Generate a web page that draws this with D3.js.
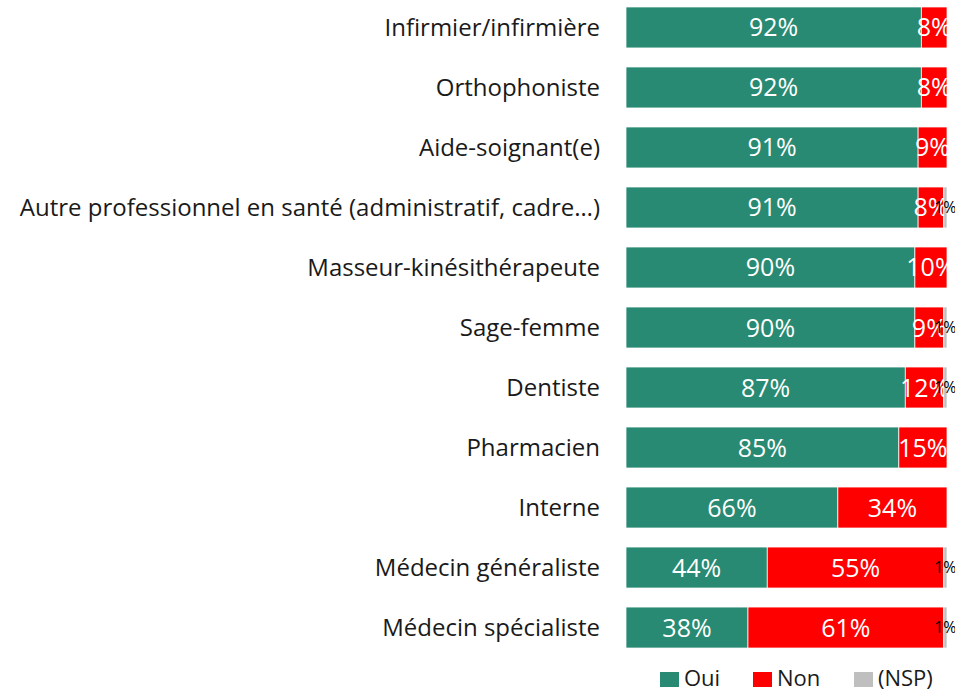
<!DOCTYPE html>
<html>
<head>
<meta charset="utf-8">
<script src="https://cdn.jsdelivr.net/npm/d3@7"></script>
<style>
  body { margin: 0; background: #fff; }
  svg { display: block; font-family: "Open Sans", sans-serif; }
</style>
</head>
<body>
<div id="chart"></div>
<script>
const categories = [
  "Infirmier/infirmière",
  "Orthophoniste",
  "Aide-soignant(e) ",
  "Autre professionnel en santé (administratif, cadre…)",
  "Masseur-kinésithérapeute",
  "Sage-femme",
  "Dentiste",
  "Pharmacien",
  "Interne",
  "Médecin généraliste",
  "Médecin spécialiste"
];
const oui = [92, 92, 91, 91, 90, 90, 87, 85, 66, 44, 38];
const non = [8, 8, 9, 8, 10, 9, 12, 15, 34, 55, 61];
const nsp = [0, 0, 0, 1, 0, 1, 1, 0, 0, 1, 1];
const keys = ["Oui", "Non", "(NSP)"];
const colors = ["#288A72", "#FF0000", "#BFBFBF"];

const width = 955;
const height = 692;

const data = categories.map((c, i) => ({ cat: c, "Oui": oui[i], "Non": non[i], "(NSP)": nsp[i] }));
const series = d3.stack().keys(keys)(data);

const svg = d3.select('#chart')
  .append('svg')
  .attr('width', width)
  .attr('height', height);

const x = d3.scaleLinear().domain([0, 100]).range([626, 947]);
const y = d3.scaleBand()
  .domain(categories)
  .range([-2.5, 657.5])
  .paddingInner(0.317)
  .paddingOuter(0.158);
const color = d3.scaleOrdinal().domain(keys).range(colors);

// bars
const groups = svg.selectAll('.serie')
  .data(series)
  .enter()
  .append('g')
  .attr('class', 'serie')
  .attr('fill', d => color(d.key));

groups.selectAll('rect')
  .data(d => d.map(v => Object.assign(v, { key: d.key })))
  .enter()
  .append('rect')
  .attr('x', d => x(d[0]))
  .attr('y', d => y(d.data.cat))
  .attr('width', d => x(d[1]) - x(d[0]))
  .attr('height', y.bandwidth())
  .attr('stroke', '#fff')
  .attr('stroke-width', 0.75);

// value labels
groups.selectAll('text')
  .data(d => d.filter(v => v[1] - v[0] > 0))
  .enter()
  .append('text')
  .attr('x', d => (x(d[0]) + x(d[1])) / 2)
  .attr('y', d => y(d.data.cat) + y.bandwidth() / 2)
  .attr('dy', '0.36em')
  .attr('text-anchor', 'middle')
  .attr('fill', d => d.key === '(NSP)' ? '#000' : '#fff')
  .style('font-size', d => d.key === '(NSP)' ? '16px' : '25px')
  .text(d => (d[1] - d[0]) + '%');

// category labels
svg.append('g')
  .selectAll('text')
  .data(categories)
  .enter()
  .append('text')
  .attr('x', 600)
  .attr('y', d => y(d) + y.bandwidth() / 2)
  .attr('dy', '0.35em')
  .attr('text-anchor', 'end')
  .attr('fill', '#1a1a1a')
  .style('font-size', '24px')
  .text(d => d);

// legend
const legendX = [660, 753, 854];
const legend = svg.append('g')
  .selectAll('g')
  .data(keys)
  .enter()
  .append('g')
  .attr('transform', (d, i) => `translate(${legendX[i]},672)`);

legend.append('rect')
  .attr('width', 19)
  .attr('height', 15)
  .attr('fill', d => color(d));

legend.append('text')
  .attr('x', 24)
  .attr('y', 14)
  .attr('fill', '#1a1a1a')
  .style('font-size', '22px')
  .text(d => d);
</script>
</body>
</html>
